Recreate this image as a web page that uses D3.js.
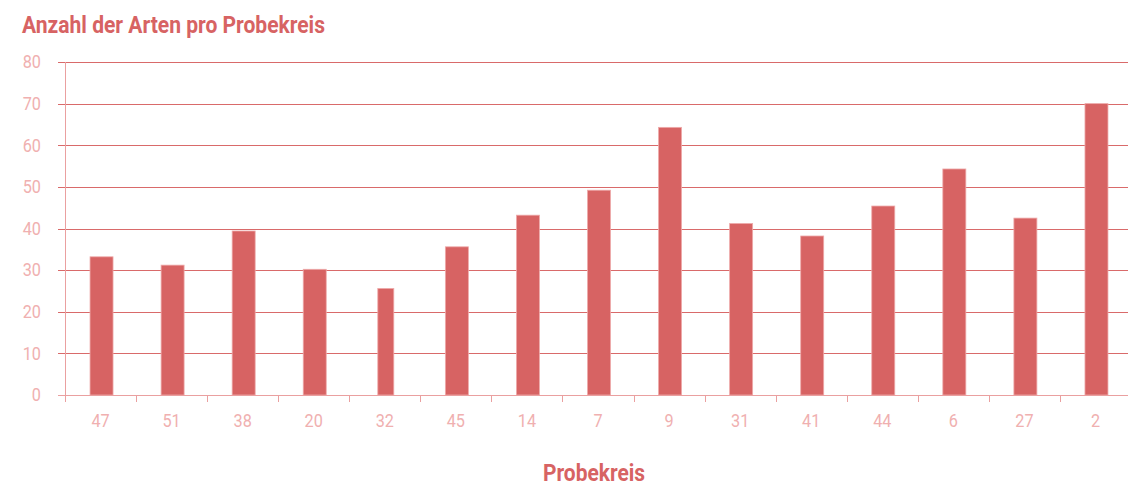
<!DOCTYPE html>
<html>
<head>
<meta charset="utf-8">
<script src="https://cdn.jsdelivr.net/npm/d3@7"></script>
<style>
  body { margin:0; background:#fff; overflow:hidden; }
  svg { display:block; }
  text { font-family: Roboto, sans-serif; }
</style>
</head>
<body>
<div id="chart"></div>
<script>
// Probekreis ids, in drawing order
let kreise = ["47","51","38","20","32","45","14","7","9","31","41","44","6","27","2"]
// species count per Probekreis
let arten = [33.2, 31.2, 39.4, 30.2, 25.6, 35.6, 43.2, 49.2, 64.3, 41.2, 38.2, 45.4, 54.3, 42.5, 70]
let yTicks = [0, 10, 20, 30, 40, 50, 60, 70, 80]

let width = 1128, height = 484,
    margin = { top:62, left:65, right:-3, bottom:89 },
    innerWidth = width - margin.left - margin.right,
    innerHeight = height - margin.top - margin.bottom

let red = "#d76363", pink = "#f0b0b0"

let svg = d3.select("#chart").append("svg").attr("width", width).attr("height", height)
let g = svg.append("g").attr("transform", `translate(${margin.left},${margin.top})`)

let xScale = d3.scaleBand().domain(kreise).range([0, innerWidth]).paddingInner(0).paddingOuter(0)
let yScale = d3.scaleLinear().domain([0, 80]).range([innerHeight, 0])

// gridlines
g.selectAll(".grid").data(yTicks.slice(1)).enter().append("line")
  .attr("x1", -7).attr("x2", width - margin.left)
  .attr("y1", d => Math.round(yScale(d)) + 0.5).attr("y2", d => Math.round(yScale(d)) + 0.5)
  .attr("stroke", "#d96a6a").attr("stroke-width", 1)

// bars (the 32 one is drawn thinner in the original)
let barW = 23
g.selectAll("rect").data(arten).enter().append("rect")
  .attr("x", (d, i) => xScale(kreise[i]) + xScale.bandwidth() / 2 - (kreise[i] == "32" ? 8 : barW / 2) + 1)
  .attr("width", (d, i) => kreise[i] == "32" ? 16 : barW)
  .attr("y", d => yScale(d))
  .attr("height", d => innerHeight - yScale(d))
  .attr("fill", red)
  .attr("stroke", "#eeaaaa").attr("stroke-width", 0.8)

// x axis
let xAxis = d3.axisBottom(xScale).tickSize(0).tickPadding(18)
let xGroup = g.append("g").attr("transform", `translate(0,${innerHeight})`).call(xAxis)
xGroup.select(".domain").remove()
xGroup.selectAll("text").attr("fill", pink).attr("font-size", 17.5)
  .attr("font-family", "Roboto, sans-serif")
  .attr("transform", "scale(0.93,1.04)")
g.append("line").attr("x1", -7).attr("x2", width - margin.left)
  .attr("y1", innerHeight + 0.5).attr("y2", innerHeight + 0.5).attr("stroke", "#eaa0a0")
// ticks between bands
g.selectAll(".xt").data(kreise).enter().append("line")
  .attr("x1", d => Math.round(xScale(d)) + 0.5).attr("x2", d => Math.round(xScale(d)) + 0.5)
  .attr("y1", innerHeight).attr("y2", innerHeight + 7)
  .attr("stroke", "#eaa0a0")

// y axis
let yAxis = d3.axisLeft(yScale).tickValues(yTicks).tickSize(0).tickPadding(24)
let yGroup = g.append("g").call(yAxis)
yGroup.select(".domain").remove()
yGroup.selectAll("text").attr("fill", pink).attr("font-size", 17.5)
  .attr("font-family", "Roboto, sans-serif")
  .attr("transform", "translate(-24,0) scale(0.93,1.04) translate(24,0)")
g.append("line").attr("x1", 0.5).attr("x2", 0.5).attr("y1", 0).attr("y2", innerHeight + 7)
  .attr("stroke", "#eaa0a0")

// titles
svg.append("text").attr("x", 22).attr("y", 33).text("Anzahl der Arten pro Probekreis")
  .attr("font-size", 24).attr("font-weight", "bold").attr("fill", red)
  .attr("textLength", 303).attr("lengthAdjust", "spacingAndGlyphs")
svg.append("text").attr("x", 543).attr("y", 481).text("Probekreis")
  .attr("font-size", 24).attr("font-weight", "bold").attr("fill", red)
  .attr("textLength", 102).attr("lengthAdjust", "spacingAndGlyphs")
</script>
</body>
</html>
